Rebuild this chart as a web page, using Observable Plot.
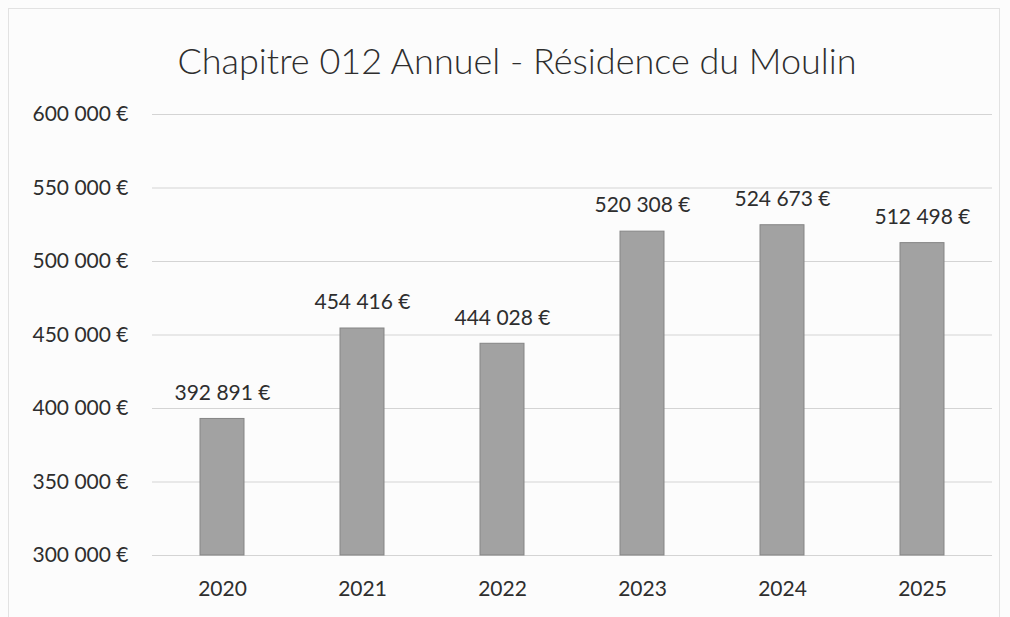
<!DOCTYPE html>
<html>
<head>
<meta charset="utf-8">
<script src="https://cdn.jsdelivr.net/npm/d3@7"></script>
<script src="https://cdn.jsdelivr.net/npm/@observablehq/plot@0.6"></script>
<style>
  html, body { margin: 0; padding: 0; background: #ffffff; }
  #wrap { position: relative; width: 1010px; height: 617px; overflow: hidden; background: #fcfcfc; font-family: Lato, "Open Sans", sans-serif; }
  #frame { position: absolute; left: 8px; top: 8px; width: 992px; height: 620px; border: 1px solid #e2e2e2; box-sizing: border-box; }
  #title { position: absolute; left: 0; top: 0; width: 1034px; height: 95px; text-align: center; line-height: 120px; font-size: 36px; font-weight: 300; color: #2e2e2e; }
  #chart { position: absolute; left: 0; top: 95px; }
</style>
</head>
<body>
<div id="wrap">
  <div id="frame"></div>
  <div id="title">Chapitre 012 Annuel - Résidence du Moulin</div>
  <div id="chart"></div>
</div>
<script>
const years = ["2020", "2021", "2022", "2023", "2024", "2025"];
const amounts = [392891, 454416, 444028, 520308, 524673, 512498];
const yTicks = [300000, 350000, 400000, 450000, 500000, 550000, 600000];

const data = years.map((y, i) => ({year: y, value: amounts[i]}));
const fr = d3.formatLocale({decimal: ",", thousands: "\u00A0", grouping: [3], currency: ["", "\u00A0€"]});
const fmt = v => fr.format(",.0f")(v) + "\u00A0€";

const chart = Plot.plot({
  width: 1010,
  height: 522,
  marginLeft: 152,
  marginRight: 18,
  marginTop: 19,
  marginBottom: 62,
  style: {fontFamily: "Lato, 'Open Sans', sans-serif", fontSize: "21px", color: "#2e2e2e", background: "transparent"},
  x: {domain: years, paddingInner: 0.686, paddingOuter: 0.343, label: null, tickSize: 0, tickPadding: 26},
  y: {domain: [300000, 600000], ticks: yTicks, tickFormat: fmt, label: null, tickSize: 0, tickPadding: 24},
  marks: [
    Plot.gridY(yTicks, {stroke: "#d4d4d4", strokeOpacity: 1, strokeWidth: 1}),
    Plot.barY(data, {x: "year", y1: 300000, y2: "value", fill: "#a2a2a2", stroke: "#858585", strokeWidth: 1}),
    Plot.text(data, {x: "year", y: "value", text: d => fmt(d.value), dy: -26, fill: "#2e2e2e", fontSize: 21})
  ]
});
document.getElementById("chart").appendChild(chart);
</script>
</body>
</html>
